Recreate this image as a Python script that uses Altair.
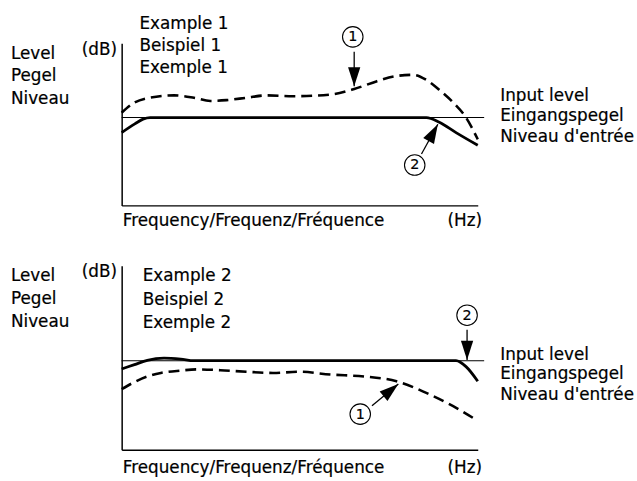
import math

import altair as alt
import pandas as pd

FONT = "DejaVu Sans"
LABEL_SIZE = 17
DIGIT_SIZE = 14.5

# Frequency runs over an arbitrary 0..100 span; level is in dB relative to the input level.
F_DOMAIN = [0, 100]
P1_DB_DOMAIN = [-11.1, 9.4]
P2_DB_DOMAIN = [-11.25, 12.0]
PLOT_W = 360
P1_H = 164
P2_H = 186

# ---- Example 1 ----
P1_DASH_F = [0, 3.6, 9.2, 14.7, 20.3, 24.9, 29.4, 35, 40.6, 48.1, 58.6, 65.3, 71.7, 77.2, 81.9, 85.6, 89.2, 93.1, 96.7, 100]
P1_DASH_DB = [0.6, 1.9, 2.6, 2.8, 2.5, 2.1, 2.2, 2.5, 2.8, 2.7, 2.9, 3.6, 4.6, 5.25, 5.4, 4.75, 3.5, 1.9, 0.0, -2.75]
P1_SOLID_F = [0, 3.7, 6.0, 8.0, 30, 60, 85.6, 89.2, 93.9, 100]
P1_SOLID_DB = [-1.9, -0.8, -0.2, 0, 0, 0, 0, -0.6, -1.9, -3.5]

# ---- Example 2 ----
P2_DASH_F = [0, 3.6, 7.2, 11, 16.6, 21.1, 27.7, 35, 42.5, 49.9, 58.6, 68.1, 77.2, 86.4, 93.1, 100]
P2_DASH_DB = [-3.6, -2.7, -2.0, -1.55, -1.25, -1.1, -1.2, -1.4, -1.55, -1.4, -1.75, -2.0, -2.6, -4.25, -5.75, -7.6]
P2_SOLID_F = [0, 3.6, 7.2, 11.9, 16.6, 20.3, 50, 80, 93.9, 96.7, 100]
P2_SOLID_DB = [-1.05, -0.5, 0.05, 0.33, 0.2, 0, 0, 0, 0, -0.75, -2.6]

# Input-level reference line (runs slightly past the frequency axis)
REF_F = [0, 101.8]
REF_DB = [0, 0]

# Callouts: circle centre, arrow start, arrow tip
P1_CALLOUTS = [
    ("1", (64.9, 10.2), (65.3, 8.3), (65.3, 3.95)),
    ("2", (82.3, -6.0), (84.2, -4.6), (88.8, -0.85)),
]
P2_CALLOUTS = [
    ("2", (97.0, 5.75), (97.0, 3.9), (97.0, 0.1)),
    ("1", (67.0, -6.75), (70.3, -5.7), (77.7, -2.95)),
]

LEFT_LABELS = ["Level", "Pegel", "Niveau"]
UNIT_Y = "(dB)"
UNIT_X = "(Hz)"
X_TITLE = "Frequency/Frequenz/Fréquence"
RIGHT_LABELS = ["Input level", "Eingangspegel", "Niveau d'entrée"]
P1_TITLES = ["Example 1", "Beispiel 1", "Exemple 1"]
P2_TITLES = ["Example 2", "Beispiel 2", "Exemple 2"]

# Label anchor positions in data units (frequency, dB)
P1_TEXT_POS = {
    "left": [(-31.1, 8.0), (-31.1, 5.2), (-31.1, 2.4)],
    "unit_y": (-11.2, 8.5),
    "titles": [(5.0, 11.8), (5.0, 9.0), (5.0, 6.2)],
    "right": [(106.3, 2.7), (106.3, 0.2), (106.3, -2.5)],
    "x_title": (0.3, -13.1),
    "unit_x": (91.5, -13.1),
}
P2_TEXT_POS = {
    "left": [(-31.1, 10.75), (-31.1, 7.8), (-31.1, 4.9)],
    "unit_y": (-11.2, 11.2),
    "titles": [(5.9, 10.75), (5.9, 7.6), (5.9, 4.7)],
    "right": [(106.3, 0.75), (106.3, -1.75), (106.3, -4.4)],
    "x_title": (0.3, -13.6),
    "unit_x": (91.5, -13.6),
}

ARROW_HEAD = "M0,0 L0.32,1 L-0.32,1 Z"


def panel(dash_f, dash_db, solid_f, solid_db, callouts, pos, titles, db_domain, height):
    x_scale = alt.Scale(domain=F_DOMAIN, nice=False, zero=False)
    y_scale = alt.Scale(domain=db_domain, nice=False, zero=False)
    axis = alt.Axis(domain=True, domainColor="black", domainWidth=1.5,
                    ticks=False, labels=False, grid=False)
    X = alt.X("f:Q", scale=x_scale, axis=axis, title=None)
    Y = alt.Y("db:Q", scale=y_scale, axis=axis, title=None)

    px_per_f = PLOT_W / (F_DOMAIN[1] - F_DOMAIN[0])
    px_per_db = height / (db_domain[1] - db_domain[0])

    ref = pd.DataFrame({"f": REF_F, "db": REF_DB})
    dash = pd.DataFrame({"f": dash_f, "db": dash_db})
    solid = pd.DataFrame({"f": solid_f, "db": solid_db})

    arrow_rows, head_rows, circle_rows = [], [], []
    for i, (num, centre, start, tip) in enumerate(callouts):
        arrow_rows += [{"id": i, "o": 0, "f": start[0], "db": start[1]},
                       {"id": i, "o": 1, "f": tip[0], "db": tip[1]}]
        dx = (tip[0] - start[0]) * px_per_f
        dy = (tip[1] - start[1]) * px_per_db
        ang = math.degrees(math.atan2(dx, dy)) % 360
        head_rows.append({"f": tip[0], "db": tip[1], "ang": ang})
        circle_rows.append({"f": centre[0], "db": centre[1], "num": num})
    arrows = pd.DataFrame(arrow_rows)
    heads = pd.DataFrame(head_rows)
    circles = pd.DataFrame(circle_rows)

    text_rows = []
    for lab, (f, d) in zip(LEFT_LABELS, pos["left"]):
        text_rows.append({"f": f, "db": d, "t": lab})
    text_rows.append({"f": pos["unit_y"][0], "db": pos["unit_y"][1], "t": UNIT_Y})
    for lab, (f, d) in zip(titles, pos["titles"]):
        text_rows.append({"f": f, "db": d, "t": lab})
    for lab, (f, d) in zip(RIGHT_LABELS, pos["right"]):
        text_rows.append({"f": f, "db": d, "t": lab})
    text_rows.append({"f": pos["x_title"][0], "db": pos["x_title"][1], "t": X_TITLE})
    text_rows.append({"f": pos["unit_x"][0], "db": pos["unit_x"][1], "t": UNIT_X})
    texts = pd.DataFrame(text_rows)

    ref_line = alt.Chart(ref).mark_line(color="black", strokeWidth=1.1).encode(x=X, y=Y)
    dash_line = alt.Chart(dash).mark_line(
        color="black", strokeWidth=2.6, strokeDash=[11, 6], interpolate="monotone"
    ).encode(x=X, y=Y)
    solid_line = alt.Chart(solid).mark_line(
        color="black", strokeWidth=2.8, interpolate="monotone"
    ).encode(x=X, y=Y)
    arrow_lines = alt.Chart(arrows).mark_line(color="black", strokeWidth=1.3).encode(
        x=X, y=Y, detail="id:N", order="o:Q")
    arrow_heads = alt.Chart(heads).mark_point(
        shape=ARROW_HEAD, filled=True, color="black", opacity=1, size=1500
    ).encode(x=X, y=Y, angle=alt.Angle("ang:Q", scale=None))
    rings = alt.Chart(circles).mark_point(
        shape="circle", filled=False, color="black", strokeWidth=1.1, opacity=1, size=430
    ).encode(x=X, y=Y)
    digits = alt.Chart(circles).mark_text(
        font=FONT, fontSize=DIGIT_SIZE, color="black", align="center", baseline="middle",
        dy=0.5, stroke="black", strokeWidth=0.2
    ).encode(x=X, y=Y, text="num:N")
    labels = alt.Chart(texts).mark_text(
        font=FONT, fontSize=LABEL_SIZE, color="black", align="left", baseline="middle",
        stroke="black", strokeWidth=0.2
    ).encode(x=X, y=Y, text="t:N")

    return alt.layer(
        ref_line, dash_line, solid_line, arrow_lines, arrow_heads, rings, digits, labels
    ).properties(width=PLOT_W, height=height)


top = panel(P1_DASH_F, P1_DASH_DB, P1_SOLID_F, P1_SOLID_DB, P1_CALLOUTS,
            P1_TEXT_POS, P1_TITLES, P1_DB_DOMAIN, P1_H)
bottom = panel(P2_DASH_F, P2_DASH_DB, P2_SOLID_F, P2_SOLID_DB, P2_CALLOUTS,
               P2_TEXT_POS, P2_TITLES, P2_DB_DOMAIN, P2_H)

chart = (
    alt.vconcat(top, bottom, spacing=61, bounds="flush")
    .properties(padding={"left": 11, "top": 12, "right": 2, "bottom": 2}, background="white")
    .configure_view(stroke=None)
)

chart.save("out.html", embed_options={"renderer": "svg", "actions": False})
